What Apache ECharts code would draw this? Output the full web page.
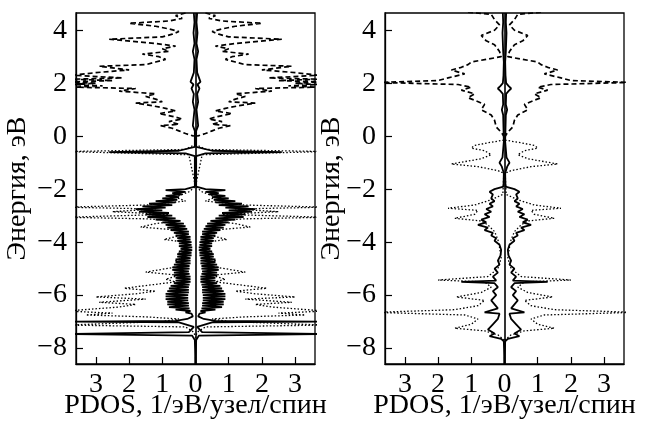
<!DOCTYPE html>
<html>
<head>
<meta charset="utf-8">
<script src="https://cdn.jsdelivr.net/npm/echarts@6/dist/echarts.min.js"></script>
<style>html,body{margin:0;padding:0;background:#fff}#main{width:645px;height:421px}</style>
</head>
<body>
<div id="main"></div>
<script>
var xTicks = [-3, -2, -1, 0, 1, 2, 3];
var yTicks = [-8, -6, -4, -2, 0, 2, 4];

// [энергия, PDOS]; спин вниз рисуется зеркально слева
var leftSolid = [
    [4.65, 0.05], [4.3, 0.03], [3.9, 0.06], [3.5, 0.03], [3.2, 0.08], [2.9, 0.03], [2.4, 0.05],
    [2.05, 0.15], [1.95, 0.06], [1.8, 0.12], [1.6, 0.05], [1.3, 0.08], [1.0, 0.03], [0.4, 0.08],
    [0.2, 0.02], [0, 0.02], [-0.4, 0.02], [-0.55, 0.5], [-0.6, 2.6], [-0.65, 0.3], [-0.75, 0.02],
    [-1.9, 0.02], [-2.0, 0.3], [-2.04, 0.9], [-2.1, 0.3],
    [-2.15, 0.7], [-2.2, 0.4], [-2.25, 0.9], [-2.3, 0.5], [-2.35, 1.0], [-2.4, 0.55], [-2.45, 1.2],
    [-2.5, 0.6], [-2.55, 1.4], [-2.6, 0.7], [-2.65, 1.6], [-2.7, 0.9], [-2.75, 1.8], [-2.8, 1.0],
    [-2.85, 1.7], [-2.9, 0.8], [-2.95, 1.5], [-3.0, 0.7], [-3.05, 1.45], [-3.1, 0.6], [-3.15, 1.2],
    [-3.2, 0.45], [-3.25, 1.0], [-3.3, 0.35], [-3.35, 0.9], [-3.4, 0.3], [-3.45, 0.85], [-3.5, 0.25],
    [-3.55, 0.75], [-3.6, 0.2], [-3.65, 0.65], [-3.7, 0.2], [-3.75, 0.6], [-3.8, 0.15], [-3.85, 0.55],
    [-3.9, 0.15], [-3.95, 0.55], [-4.0, 0.12], [-4.05, 0.5], [-4.1, 0.12], [-4.15, 0.5], [-4.2, 0.1],
    [-4.25, 0.45], [-4.3, 0.1], [-4.35, 0.5], [-4.4, 0.12], [-4.45, 0.55], [-4.5, 0.12], [-4.55, 0.55],
    [-4.6, 0.15], [-4.65, 0.6], [-4.7, 0.15], [-4.75, 0.6], [-4.8, 0.15], [-4.85, 0.65], [-4.9, 0.18],
    [-4.95, 0.7], [-5.0, 0.18], [-5.05, 0.7], [-5.1, 0.2], [-5.15, 0.65], [-5.2, 0.18], [-5.25, 0.65],
    [-5.3, 0.15], [-5.35, 0.6], [-5.4, 0.15], [-5.45, 0.6], [-5.5, 0.15], [-5.55, 0.65], [-5.6, 0.18],
    [-5.65, 0.75], [-5.7, 0.2], [-5.75, 0.8], [-5.8, 0.2], [-5.85, 0.85], [-5.9, 0.2], [-5.95, 0.9],
    [-6.0, 0.22], [-6.05, 0.9], [-6.1, 0.22], [-6.15, 0.9], [-6.2, 0.22], [-6.25, 0.85], [-6.3, 0.2],
    [-6.35, 0.85], [-6.4, 0.2], [-6.45, 0.8], [-6.5, 0.18], [-6.55, 0.6], [-6.6, 0.15], [-6.65, 0.3],
    [-6.7, 0.12], [-6.8, 0.08], [-6.9, 0.25], [-6.97, 0.6], [-7.0, 3.9], [-7.03, 0.5], [-7.2, 0.05],
    [-7.4, 0.2], [-7.47, 3.9], [-7.53, 0.1], [-7.7, 0.02], [-8.6, 0]
];
var leftDashed = [
    [4.65, 0.3], [4.55, 0.6], [4.45, 0.4], [4.35, 0.8], [4.26, 2.0], [4.15, 1.2], [4.05, 0.8],
    [3.95, 0.5], [3.85, 0.7], [3.75, 1.0], [3.66, 2.6], [3.5, 1.2], [3.4, 0.6], [3.3, 1.0],
    [3.2, 0.8], [3.1, 1.6], [3.0, 1.1], [2.9, 0.9], [2.8, 1.2], [2.7, 1.5], [2.64, 2.9],
    [2.5, 2.0], [2.4, 3.0], [2.3, 3.7], [2.2, 2.2], [2.15, 3.7], [2.1, 2.5], [2.05, 3.8],
    [2.0, 3.0], [1.95, 3.7], [1.9, 2.8], [1.85, 3.6], [1.8, 1.8], [1.7, 2.3], [1.6, 1.2],
    [1.5, 1.5], [1.4, 1.2], [1.3, 1.0], [1.25, 1.8], [1.15, 1.3], [1.05, 0.9], [0.95, 0.6],
    [0.85, 1.1], [0.75, 0.7], [0.65, 0.4], [0.55, 0.8], [0.45, 0.5], [0.4, 1.05], [0.3, 0.7],
    [0.2, 0.5], [0.1, 0.3], [0.0, 0.05]
];
var leftDotted = [
    [-0.3, 0], [-0.5, 0.3], [-0.58, 3.9], [-0.62, 3.9], [-0.7, 0.2], [-1.9, 0], [-2.1, 0.2],
    [-2.3, 0.6], [-2.45, 0.3], [-2.6, 1.5], [-2.68, 3.9], [-2.75, 1.2], [-2.85, 2.5], [-2.95, 0.8],
    [-3.06, 3.9], [-3.12, 1.5], [-3.2, 0.5], [-3.3, 1.2], [-3.43, 1.65], [-3.55, 0.5], [-3.7, 0.3],
    [-3.9, 0.95], [-4.0, 0.3], [-4.2, 0.2], [-4.4, 0.5], [-4.55, 0.3], [-4.7, 0.6], [-4.9, 0.4],
    [-5.13, 1.5], [-5.25, 0.5], [-5.4, 0.9], [-5.5, 0.6], [-5.74, 2.15], [-5.85, 1.2], [-5.95, 1.8],
    [-6.07, 3.0], [-6.15, 1.5], [-6.27, 2.9], [-6.35, 1.8], [-6.45, 2.3], [-6.6, 3.9], [-6.68, 2.5],
    [-6.75, 3.3], [-6.82, 1.5], [-6.9, 0.5], [-7.0, 1.0], [-7.13, 3.9], [-7.2, 0.3], [-7.4, 0.05],
    [-7.6, 0]
];

var rightSolid = [
    [4.65, 0.05], [4.3, 0.04], [3.9, 0.06], [3.2, 0.04], [2.8, 0.02], [2.3, 0.03], [2.0, 0.05],
    [1.9, 0.12], [1.8, 0.2], [1.7, 0.12], [1.6, 0.05], [1.2, 0.04], [1.0, 0.08], [0.8, 0.04],
    [0.3, 0.03], [-0.2, 0.02], [-0.8, 0.06], [-1.0, 0.15], [-1.15, 0.08], [-1.4, 0.02], [-1.9, 0.03],
    [-2.0, 0.3], [-2.1, 0.45], [-2.2, 0.35], [-2.35, 0.4], [-2.45, 0.3], [-2.55, 0.45], [-2.65, 0.35],
    [-2.75, 0.55], [-2.85, 0.4], [-2.95, 0.6], [-3.05, 0.45], [-3.15, 0.7], [-3.25, 0.55],
    [-3.35, 0.8], [-3.45, 0.5], [-3.55, 0.6], [-3.65, 0.35], [-3.75, 0.4], [-3.85, 0.25],
    [-3.95, 0.3], [-4.1, 0.15], [-4.3, 0.1], [-4.5, 0.12], [-4.7, 0.2], [-4.85, 0.15], [-5.0, 0.3],
    [-5.15, 0.2], [-5.3, 0.35], [-5.45, 0.25], [-5.5, 1.3], [-5.55, 0.3], [-5.7, 0.2], [-5.85, 0.35],
    [-6.0, 0.25], [-6.2, 0.4], [-6.35, 0.3], [-6.5, 0.2], [-6.65, 0.6], [-6.7, 0.15], [-6.9, 0.2],
    [-7.1, 0.35], [-7.3, 0.5], [-7.45, 0.3], [-7.55, 0.45], [-7.65, 0.1], [-7.75, 0.02], [-8.6, 0]
];
var rightDashed = [
    [4.68, 1.1], [4.6, 0.4], [4.4, 0.3], [4.2, 0.15], [4.0, 0.3], [3.8, 0.7], [3.6, 0.55],
    [3.45, 0.3], [3.2, 0.15], [3.0, 0.1], [2.8, 1.0], [2.7, 1.1], [2.6, 1.3], [2.5, 1.6],
    [2.35, 1.2], [2.2, 1.7], [2.1, 2.0], [2.03, 3.8], [1.95, 1.4], [1.85, 1.0], [1.74, 1.3],
    [1.6, 0.9], [1.45, 1.1], [1.36, 0.9], [1.2, 0.6], [1.0, 0.7], [0.8, 0.4], [0.6, 0.3],
    [0.35, 0.25], [0.15, 0.1], [0.0, 0.02]
];
var rightDotted = [
    [-0.15, 0.02], [-0.25, 0.5], [-0.35, 0.9], [-0.45, 1.0], [-0.55, 0.6], [-0.7, 0.4], [-0.85, 0.7],
    [-1.05, 1.6], [-1.15, 0.8], [-1.3, 0.2], [-1.4, 0.02], [-2.2, 0.05], [-2.4, 0.4], [-2.6, 0.9],
    [-2.72, 1.7], [-2.8, 0.8], [-2.95, 0.9], [-3.1, 1.5], [-3.2, 0.7], [-3.35, 0.5], [-3.6, 0.3],
    [-3.9, 0.2], [-4.2, 0.15], [-4.6, 0.1], [-5.0, 0.2], [-5.3, 0.5], [-5.43, 2.0], [-5.5, 0.6],
    [-5.7, 0.4], [-5.9, 0.7], [-6.07, 1.45], [-6.2, 0.6], [-6.4, 0.8], [-6.55, 1.5], [-6.65, 3.9],
    [-6.75, 1.2], [-6.9, 0.8], [-7.1, 1.0], [-7.25, 1.5], [-7.35, 0.6], [-7.5, 0.2], [-7.7, 0]
];

var font = 'Liberation Serif';

function spinSeries(data, idx, width, dash) {
    var up = [], down = [];
    for (var i = 0; i < data.length; i++) {
        up.push([data[i][1], data[i][0]]);
        down.push([-data[i][1], data[i][0]]);
    }
    var style = {color: '#000', width: width, type: dash};
    return [up, down].map(function (d) {
        return {
            type: 'line', xAxisIndex: idx, yAxisIndex: idx, data: d,
            symbol: 'none', lineStyle: style, silent: true
        };
    });
}

function zeroLine(idx) {
    return {
        type: 'line', xAxisIndex: idx, yAxisIndex: idx, data: [], silent: true,
        markLine: {
            symbol: 'none', silent: true, label: {show: false},
            lineStyle: {color: '#000', type: 'solid', width: 1.6},
            data: [{xAxis: 0}]
        }
    };
}

function xAxisOf(idx) {
    return {
        type: 'value', gridIndex: idx, min: -3.6, max: 3.6,
        name: 'PDOS, 1/эВ/узел/спин', nameLocation: 'middle', nameGap: 28, nameMoveOverlap: false,
        nameTextStyle: {fontFamily: font, fontSize: 28, color: '#000'},
        axisLine: {show: true, onZero: false, lineStyle: {color: '#000', width: 1.3}},
        axisTick: {inside: true, length: 7, customValues: xTicks, lineStyle: {color: '#000', width: 1.2}},
        axisLabel: {
            customValues: xTicks, margin: 7, fontFamily: font, fontSize: 28, color: '#000',
            formatter: function (v) { return String(Math.abs(v)); }
        },
        splitLine: {show: false}
    };
}

function yAxisOf(idx, gap) {
    return {
        type: 'value', gridIndex: idx, min: -8.6, max: 4.65,
        name: 'Энергия, эВ', nameLocation: 'middle', nameGap: gap, nameRotate: 90, nameMoveOverlap: false,
        nameTextStyle: {fontFamily: font, fontSize: 28, color: '#000'},
        axisLine: {show: true, onZero: false, lineStyle: {color: '#000', width: 1.3}},
        axisTick: {inside: true, length: 7, customValues: yTicks, lineStyle: {color: '#000', width: 1.2}},
        axisLabel: {
            customValues: yTicks, margin: 9, fontFamily: font, fontSize: 28, color: '#000',
            formatter: function (v) { return v < 0 ? '\u2212' + (-v) : String(v); }
        },
        splitLine: {show: false}
    };
}

var series = [];
[[leftDotted, leftDashed, leftSolid], [rightDotted, rightDashed, rightSolid]].forEach(function (set, idx) {
    series = series.concat(spinSeries(set[0], idx, 1.3, [1.5, 2]));
    series = series.concat(spinSeries(set[1], idx, 1.7, [5, 3]));
    series = series.concat(spinSeries(set[2], idx, 1.8, 'solid'));
    series.push(zeroLine(idx));
});

var gridBase = {
    top: 13, width: 239, height: 351, show: true, containLabel: false, outerBoundsMode: 'none',
    borderColor: '#000', borderWidth: 1.3, backgroundColor: 'transparent'
};

var myChart = echarts.init(document.getElementById('main'), null, {renderer: 'canvas'});
var option = {
    animation: false,
    backgroundColor: '#fff',
    grid: [
        Object.assign({left: 76}, gridBase),
        Object.assign({left: 385}, gridBase)
    ],
    xAxis: [xAxisOf(0), xAxisOf(1)],
    yAxis: [yAxisOf(0, 44), yAxisOf(1, 39)],
    series: series
};
myChart.setOption(option);
</script>
</body>
</html>
